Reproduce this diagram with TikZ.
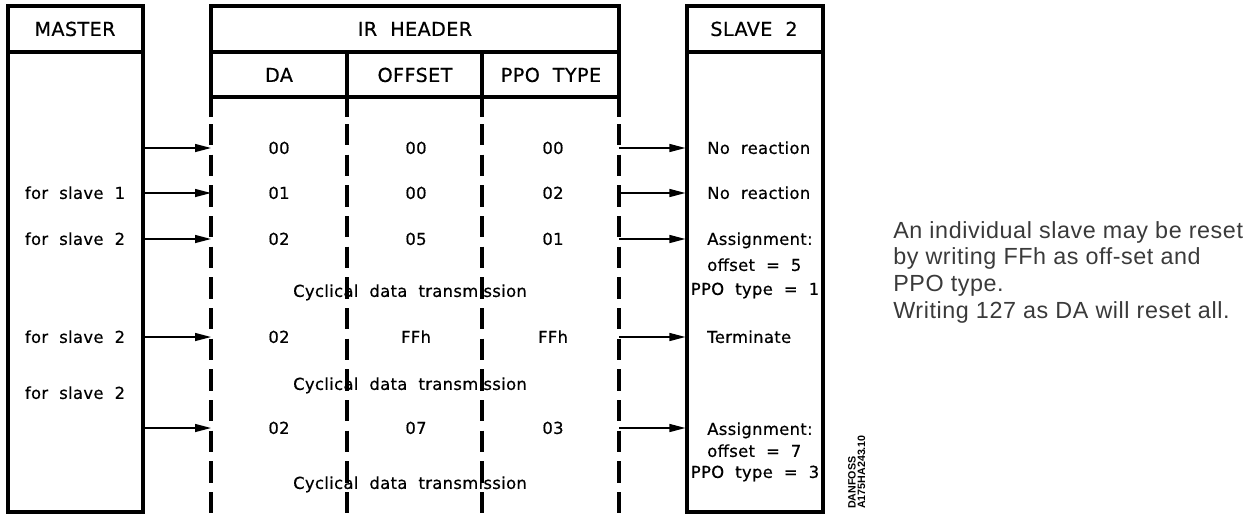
\documentclass[tikz,border=0pt]{standalone}
\usepackage{fontspec}
\usetikzlibrary{arrows.meta,fit}
% Drafting font for the frame diagram, plain grotesque for the side note
\newfontfamily\cadfont{DejaVu Sans}[WordSpace=2.0,LetterSpace=2,FakeBold=0.5]
\newfontfamily\notefont{Liberation Sans}[LetterSpace=2.5]
\newfontfamily\tagfont{Liberation Sans}
\definecolor{notegray}{HTML}{3A3A3A}
\begin{document}
\begin{tikzpicture}[x=0.75pt,y=-0.75pt,
  frame/.style={line width=2.4pt},
  box/.style={draw,rectangle,inner sep=0pt,line width=2.4pt},
  dashline/.style={line width=2.4pt,dash pattern=on 16pt off 7pt},
  arr/.style={line width=1pt,-{Triangle[length=12pt,width=6pt]}},
  hdr/.style={font=\cadfont\fontsize{14.4}{17}\selectfont,anchor=base,yshift=-5.2pt,inner sep=0pt},
  txt/.style={font=\cadfont\fontsize{12.3}{15}\selectfont,anchor=base,yshift=-4.4pt,inner sep=0pt},
  ltxt/.style={txt,anchor=base west},
  note/.style={font=\notefont\fontsize{17.5}{20}\selectfont,text=notegray,align=left,inner sep=0pt},
  tag/.style={font=\tagfont\bfseries\fontsize{8}{7}\selectfont,align=left,inner sep=0pt}
]
\useasboundingbox (0,0) rectangle (1256,515);

% master and slave frames
\node[box,fit={(8,6) (143,512)}] (master) {};
\node[box,fit={(687,6) (823,512)}] (slave) {};
\draw[frame] (8,52) -- (143,52);
\draw[frame] (687,52) -- (823,52);

% IR header table
\draw[frame] (211,117) -- (211,6) -- (619,6) -- (619,117);
\draw[frame] (211,52) -- (619,52);
\draw[frame] (211,97) -- (619,97);
\draw[frame] (347,52) -- (347,117);
\draw[frame] (482,52) -- (482,117);

% column lines continued as time lines
\coordinate (da)  at (211,124);
\coordinate (ofs) at (347,124);
\coordinate (ppt) at (482,124);
\coordinate (end) at (619,124);
\foreach \c in {da,ofs,ppt,end}
  \draw[dashline] (\c) -- (\c |- 0,515);

% headings
\node[hdr] (hmaster) at (75,29) {MASTER};
\node[hdr] (hir) at (415,29) {IR HEADER};
\node[hdr] (hslave) at (754,29) {SLAVE 2};
\node[hdr] (hda) at (279,75) {DA};
\node[hdr] (hofs) at (415,75) {OFFSET};
\node[hdr] (hppo) at (551,75) {PPO TYPE};

% telegram rows
\coordinate (r1) at (0,148);
\coordinate (r2) at (0,193);
\coordinate (r3) at (0,239);
\coordinate (r4) at (0,337);
\coordinate (r5) at (0,428);
\foreach \r in {r1,r2,r3,r4,r5}{
  \draw[arr] (master.east |- \r) -- (da |- \r);
  \draw[arr] (end |- \r) -- (slave.west |- \r);
}

% master side
\node[txt] (m2) at (75,193) {for slave 1};
\node[txt] (m3) at (75,239) {for slave 2};
\node[txt] (m4) at (75,337) {for slave 2};
\node[txt] (m5) at (75,393) {for slave 2};

% header contents
\foreach \y/\a/\b/\c [count=\i] in {148/00/00/00,193/01/00/02,239/02/05/01,337/02/FFh/FFh,428/02/07/03}{
  \node[txt] (da\i) at (279,\y) {\a};
  \node[txt] (of\i) at (416,\y) {\b};
  \node[txt] (pp\i) at (553,\y) {\c};
}
\node[txt] (cyc1) at (410,291) {Cyclical data transmission};
\node[txt] (cyc2) at (410,384) {Cyclical data transmission};
\node[txt] (cyc3) at (410,483) {Cyclical data transmission};

% slave reactions
\node[ltxt] (s1) at (707,148) {No reaction};
\node[ltxt] (s2) at (707,193) {No reaction};
\node[ltxt] (s3a) at (707,239) {Assignment:};
\node[ltxt] (s3b) at (707,265) {offset = 5};
\node[txt] (s3c) at (755,289) {PPO type = 1};
\node[ltxt] (s4) at (707,337) {Terminate};
\node[ltxt] (s5a) at (707,429) {Assignment:};
\node[ltxt] (s5b) at (707,451) {offset = 7};
\node[txt] (s5c) at (755,472) {PPO type = 3};

% drawing number
\node[tag,rotate=90,anchor=north west] (dwg) at (848,509) {DANFOSS\\A175HA243.10};

% explanatory note
\node[note,anchor=north west] (info) at (893,221)
  {An individual slave may be reset\\by writing FFh as off-set and\\PPO type.\\Writing 127 as DA will reset all.};
\end{tikzpicture}
\end{document}
